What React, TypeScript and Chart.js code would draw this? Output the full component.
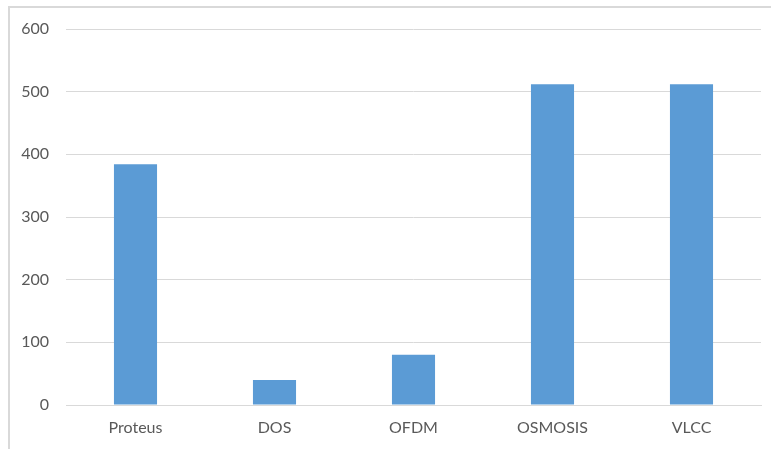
import React, { useEffect, useRef } from "react";
import { Chart, registerables } from "chart.js";

Chart.register(...registerables);

const categories = ["Proteus", "DOS", "OFDM", "OSMOSIS", "VLCC"];
const values = [384, 40, 80, 512, 512];
const yTicks = [0, 100, 200, 300, 400, 500, 600];

const BAR_COLOR = "#5B9BD5";
const GRID_COLOR = "#d9d9d9";
const TEXT_COLOR = "#595959";

export default function App() {
  const canvasRef = useRef<HTMLCanvasElement | null>(null);

  useEffect(() => {
    if (!canvasRef.current) return;
    const chart = new Chart(canvasRef.current, {
      type: "bar",
      data: {
        labels: categories,
        datasets: [
          {
            data: values,
            backgroundColor: BAR_COLOR,
            borderWidth: 0,
            categoryPercentage: 1,
            barPercentage: 0.31,
          },
        ],
      },
      options: {
        animation: false,
        responsive: false,
        maintainAspectRatio: false,
        layout: { padding: { left: 0, right: 10, top: 29, bottom: 0 } },
        plugins: {
          legend: { display: false },
          tooltip: { enabled: false },
          title: { display: false },
        },
        scales: {
          x: {
            grid: { display: false, drawTicks: false },
            border: { display: true, color: GRID_COLOR, width: 1 },
            ticks: {
              color: TEXT_COLOR,
              font: { family: "Lato", size: 16 },
              padding: 13,
            },
            afterFit: (scale: any) => {
              scale.height = 44;
            },
          },
          y: {
            min: 0,
            max: 600,
            afterBuildTicks: (scale: any) => {
              scale.ticks = yTicks.map((v) => ({ value: v }));
            },
            grid: { color: GRID_COLOR, lineWidth: 1, drawTicks: false },
            border: { display: false },
            ticks: {
              color: TEXT_COLOR,
              font: { family: "Lato", size: 16 },
              padding: 17,
            },
            afterFit: (scale: any) => {
              scale.width = 66;
            },
          },
        },
      },
    });
    return () => chart.destroy();
  }, []);

  return (
    <div style={{ position: "fixed", left: 0, top: 0, width: 771, height: 449, background: "#fff", overflow: "hidden" }}>
      <div
        style={{
          position: "absolute",
          left: 8,
          top: 6,
          width: 800,
          height: 480,
          border: `2px solid ${GRID_COLOR}`,
          boxSizing: "border-box",
        }}
      />
      <canvas ref={canvasRef} width={771} height={449} style={{ position: "absolute", left: 0, top: 0 }} />
    </div>
  );
}
